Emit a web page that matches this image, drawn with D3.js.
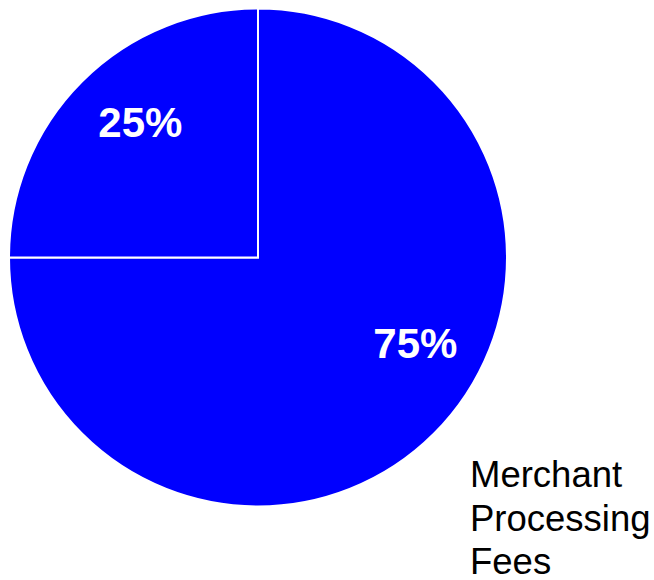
<!DOCTYPE html>
<html>
<head>
<meta charset="utf-8">
<script src="https://cdn.jsdelivr.net/npm/d3@7"></script>
<style>
  html, body { margin: 0; padding: 0; background: #ffffff; }
  svg { display: block; }
</style>
</head>
<body>
<svg id="chart" width="654" height="580"></svg>
<script>
// Slice shares, in drawing order (clockwise from 12 o'clock)
const categories = ["Merchant Processing Fees", "Other"];
const shares = [75, 25];
const legendLines = ["Merchant", "Processing", "Fees"];

const svg = d3.select("#chart");
const cx = 258, cy = 257.5, radius = 249;

const pie = d3.pie().sort(null).value(d => d.value);
const arcs = pie(categories.map((c, i) => ({ name: c, value: shares[i] })));

const arc = d3.arc().innerRadius(0).outerRadius(radius);

const g = svg.append("g").attr("transform", `translate(${cx},${cy})`);

g.selectAll("path.slice")
  .data(arcs)
  .join("path")
  .attr("class", "slice")
  .attr("d", arc)
  .attr("fill", "#0000ff")
  .attr("stroke", "#ffffff")
  .attr("stroke-width", 2)
  .attr("stroke-linejoin", "miter");

// Percentage labels sit at ~72% of the radius, nudged along the arc
const labelRadius = radius * 0.72;
const labelNudge = [-16.4, 4]; // degrees, per slice
const total = d3.sum(shares);

g.selectAll("text.pct")
  .data(arcs)
  .join("text")
  .attr("class", "pct")
  .attr("transform", (d, i) => {
    const a = (d.startAngle + d.endAngle) / 2 + labelNudge[i] * Math.PI / 180;
    const x = Math.sin(a) * labelRadius;
    const y = -Math.cos(a) * labelRadius;
    return `translate(${x},${y})`;
  })
  .attr("text-anchor", "middle")
  .attr("dy", "0.36em")
  .attr("fill", "#ffffff")
  .attr("font-family", "Arial, 'Liberation Sans', sans-serif")
  .attr("font-weight", "bold")
  .attr("font-size", 42)
  .text(d => Math.round(d.data.value / total * 100) + "%");

// Legend label, wrapped over three lines
const legend = svg.append("text")
  .attr("x", 470)
  .attr("y", 487)
  .attr("fill", "#000000")
  .attr("font-family", "Arial, 'Liberation Sans', sans-serif")
  .attr("font-size", 36.5);

legend.selectAll("tspan")
  .data(legendLines)
  .join("tspan")
  .attr("x", 470)
  .attr("dy", (d, i) => i === 0 ? 0 : 43.5)
  .text(d => d);
</script>
</body>
</html>
